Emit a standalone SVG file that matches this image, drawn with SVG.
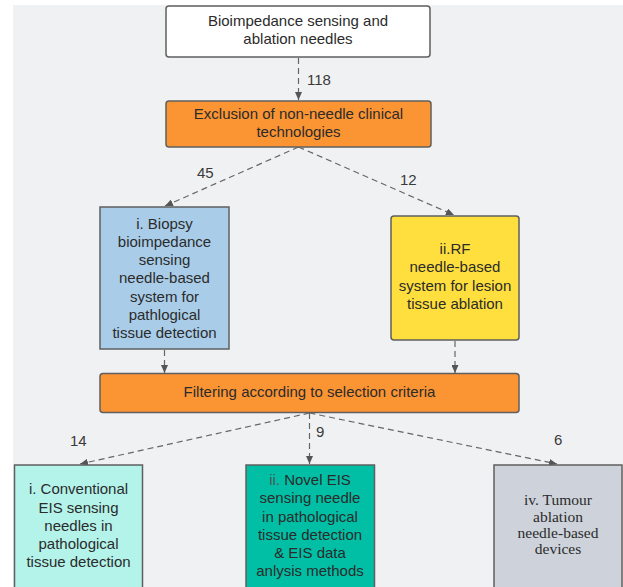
<svg xmlns="http://www.w3.org/2000/svg" width="623" height="587" viewBox="0 0 623 587">
<style>
.box{stroke:#5f5f5f;stroke-width:1.5}
.t{font-family:"Liberation Sans",Arial,sans-serif;font-size:15px;fill:#2b2b2b;text-anchor:middle}
.s{font-family:"Liberation Serif","Times New Roman",serif;font-size:15.5px;fill:#2b2b2b;text-anchor:middle}
.lbl{font-family:"Liberation Sans",Arial,sans-serif;font-size:15px;fill:#3a3a3a}
.c{fill:none;stroke:#666;stroke-width:1.2;stroke-dasharray:6 4;marker-end:url(#ah)}
</style>
<defs>
<marker id="ah" markerUnits="userSpaceOnUse" markerWidth="9" markerHeight="7" refX="8" refY="3.5" orient="auto">
<path d="M0,0 L8,3.5 L0,7 z" fill="#555"/>
</marker>
</defs>
<rect x="0" y="0" width="623" height="587" fill="#ffffff"/>
<rect x="13" y="5" width="610" height="582" fill="#f0f1f3"/>

<g id="connectors">
<line class="c" x1="298.5" y1="58" x2="298.5" y2="100"/>
<line class="c" x1="298.5" y1="147" x2="165" y2="206"/>
<line class="c" x1="298.5" y1="147" x2="454" y2="215"/>
<line class="c" x1="164.5" y1="350" x2="164.5" y2="373"/>
<line class="c" x1="455" y1="341" x2="455" y2="373"/>
<line class="c" x1="309.5" y1="413" x2="80" y2="464"/>
<line class="c" x1="309.5" y1="413" x2="309.5" y2="464"/>
<line class="c" x1="309.5" y1="413" x2="557" y2="464"/>
<text class="lbl" x="307" y="85">118</text>
<text class="lbl" x="197" y="178">45</text>
<text class="lbl" x="400" y="185">12</text>
<text class="lbl" x="70" y="446">14</text>
<text class="lbl" x="316" y="437">9</text>
<text class="lbl" x="554" y="445">6</text>
</g>

<g id="n-top">
<rect class="box" x="166" y="6" width="264" height="51" rx="3" fill="#ffffff"/>
<text class="t" x="298" y="26">Bioimpedance sensing and</text>
<text class="t" x="298" y="44">ablation needles</text>
</g>

<g id="n-exclusion">
<rect class="box" x="166" y="101" width="265" height="46" rx="3" fill="#fb9433"/>
<text class="t" x="298.5" y="118.5">Exclusion of non-needle clinical</text>
<text class="t" x="298.5" y="136.5">technologies</text>
</g>

<g id="n-biopsy">
<rect class="box" x="100" y="207" width="129" height="142" fill="#a9cde9"/>
<text class="t" x="164.5" y="228.5">i. Biopsy</text>
<text class="t" x="164.5" y="246.8">bioimpedance</text>
<text class="t" x="164.5" y="265">sensing</text>
<text class="t" x="164.5" y="283.3">needle-based</text>
<text class="t" x="164.5" y="301.6">system for</text>
<text class="t" x="164.5" y="319.9">pathlogical</text>
<text class="t" x="164.5" y="338">tissue detection</text>
</g>

<g id="n-rf">
<rect class="box" x="391" y="216" width="128" height="124" rx="3" fill="#ffdf3d"/>
<text class="t" x="455" y="254">ii.RF</text>
<text class="t" x="455" y="272.3">needle-based</text>
<text class="t" x="455" y="290.5">system for lesion</text>
<text class="t" x="455" y="308.5">tissue ablation</text>
</g>

<g id="n-filter">
<rect class="box" x="100" y="373.5" width="419" height="39" rx="3" fill="#fb9433"/>
<text class="t" x="309.5" y="397">Filtering according to selection criteria</text>
</g>

<g id="n-conventional">
<rect class="box" x="14.5" y="465" width="128" height="135" fill="#b3f3ea"/>
<text class="t" x="78.5" y="494.3">i. Conventional</text>
<text class="t" x="78.5" y="512.6">EIS sensing</text>
<text class="t" x="78.5" y="530.5">needles in</text>
<text class="t" x="78.5" y="548.5">pathological</text>
<text class="t" x="78.5" y="566.5">tissue detection</text>
</g>

<g id="n-novel">
<rect class="box" x="246" y="465" width="128.5" height="135" fill="#00bfa5"/>
<text class="t" x="310" y="485"><tspan fill="#4a5a57">ii.</tspan> Novel EIS</text>
<text class="t" x="310" y="503.3">sensing needle</text>
<text class="t" x="310" y="521.6">in pathological</text>
<text class="t" x="310" y="540">tissue detection</text>
<text class="t" x="310" y="558.3">&amp; EIS data</text>
<text class="t" x="310" y="576.3">anlysis methods</text>
</g>

<g id="n-tumour">
<rect class="box" x="494" y="465" width="128" height="135" fill="#ced3db"/>
<text class="s" x="558" y="505">iv. Tumour</text>
<text class="s" x="558" y="521.5">ablation</text>
<text class="s" x="558" y="537.8">needle-based</text>
<text class="s" x="558" y="554">devices</text>
</g>
</svg>
